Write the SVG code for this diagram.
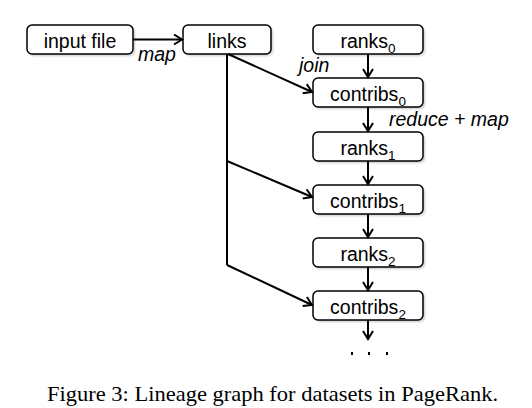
<svg xmlns="http://www.w3.org/2000/svg" width="532" height="408" viewBox="0 0 532 408">
<style>
.box{fill:#fff;stroke:#000;stroke-width:1.5}
.sh{fill:#999;opacity:0.5}
.t{font-family:"Liberation Sans",Arial,sans-serif;font-size:19.5px;fill:#000;text-anchor:middle}
.lbl{font-family:"Liberation Sans",Arial,sans-serif;font-size:19.5px;font-style:italic;fill:#000}
.sub{font-size:13.5px}
.e{fill:none;stroke:#000;stroke-width:2}
.cap{font-family:"Liberation Serif","Times New Roman",serif;font-size:21px;fill:#000}
</style>
<defs>
<marker id="ah" markerWidth="12" markerHeight="12" refX="9" refY="6" orient="auto" markerUnits="userSpaceOnUse">
<path d="M1,1 L9,6 L1,11" fill="none" stroke="#000" stroke-width="2"/>
</marker>
<filter id="ds" x="-10%" y="-20%" width="130%" height="160%">
<feGaussianBlur stdDeviation="1.2"/>
</filter>
</defs>
<g id="input-file"><rect class="sh" x="29" y="27" width="106" height="29" rx="5" filter="url(#ds)"/><rect class="box" x="27" y="25" width="106" height="29" rx="5"/><text class="t" x="80" y="47.5">input file</text></g>
<g id="links"><rect class="sh" x="185" y="27" width="88" height="29" rx="5" filter="url(#ds)"/><rect class="box" x="183" y="25" width="88" height="29" rx="5"/><text class="t" x="227" y="47.5">links</text></g>
<g id="ranks0"><rect class="sh" x="315" y="27" width="110" height="29" rx="5" filter="url(#ds)"/><rect class="box" x="313" y="25" width="110" height="29" rx="5"/><text class="t" x="368" y="47.5">ranks<tspan class="sub" dy="5">0</tspan></text></g>
<g id="contribs0"><rect class="sh" x="315" y="80" width="110" height="29" rx="5" filter="url(#ds)"/><rect class="box" x="313" y="78" width="110" height="29" rx="5"/><text class="t" x="368" y="100.5">contribs<tspan class="sub" dy="5">0</tspan></text></g>
<g id="ranks1"><rect class="sh" x="315" y="134" width="110" height="29" rx="5" filter="url(#ds)"/><rect class="box" x="313" y="132" width="110" height="29" rx="5"/><text class="t" x="368" y="154.5">ranks<tspan class="sub" dy="5">1</tspan></text></g>
<g id="contribs1"><rect class="sh" x="315" y="187" width="110" height="29" rx="5" filter="url(#ds)"/><rect class="box" x="313" y="185" width="110" height="29" rx="5"/><text class="t" x="368" y="207.5">contribs<tspan class="sub" dy="5">1</tspan></text></g>
<g id="ranks2"><rect class="sh" x="315" y="240" width="110" height="29" rx="5" filter="url(#ds)"/><rect class="box" x="313" y="238" width="110" height="29" rx="5"/><text class="t" x="368" y="260.5">ranks<tspan class="sub" dy="5">2</tspan></text></g>
<g id="contribs2"><rect class="sh" x="315" y="293" width="110" height="29" rx="5" filter="url(#ds)"/><rect class="box" x="313" y="291" width="110" height="29" rx="5"/><text class="t" x="368" y="313.5">contribs<tspan class="sub" dy="5">2</tspan></text></g>
<g id="connectors">
<line class="e" x1="133" y1="39.5" x2="182" y2="39.5" marker-end="url(#ah)"/>
<polyline class="e" points="227,54 227,265"/>
<line class="e" x1="228" y1="54" x2="312" y2="92" marker-end="url(#ah)"/>
<line class="e" x1="227" y1="161" x2="312" y2="197" marker-end="url(#ah)"/>
<line class="e" x1="227" y1="265" x2="312" y2="305" marker-end="url(#ah)"/>
<line class="e" x1="368" y1="54" x2="368" y2="77" marker-end="url(#ah)"/>
<line class="e" x1="368" y1="107" x2="368" y2="131" marker-end="url(#ah)"/>
<line class="e" x1="368" y1="161" x2="368" y2="184" marker-end="url(#ah)"/>
<line class="e" x1="368" y1="214" x2="368" y2="237" marker-end="url(#ah)"/>
<line class="e" x1="368" y1="267" x2="368" y2="290" marker-end="url(#ah)"/>
<line class="e" x1="368" y1="320" x2="368" y2="339" marker-end="url(#ah)"/>
</g>
<text class="lbl" x="138" y="61">map</text>
<text class="lbl" x="299" y="72">join</text>
<text class="lbl" x="389" y="126">reduce + map</text>
<g id="dots" fill="#000"><rect x="351" y="352" width="2" height="3"/><rect x="368" y="352" width="2" height="3"/><rect x="386" y="352" width="2" height="3"/></g>
<text class="cap" x="47" y="401" textLength="451" lengthAdjust="spacingAndGlyphs">Figure 3: Lineage graph for datasets in PageRank.</text>
</svg>
